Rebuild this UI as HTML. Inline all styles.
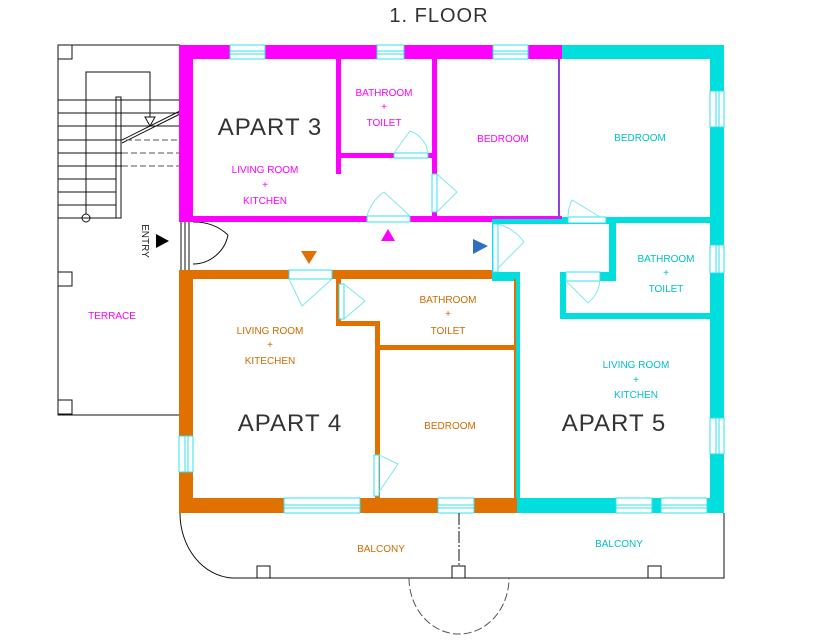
<!DOCTYPE html>
<html><head><meta charset="utf-8"><style>
body{margin:0;background:#fff}
svg{display:block}
text{font-family:"Liberation Sans",sans-serif}
</style></head><body>
<svg width="817" height="644" viewBox="0 0 817 644" xmlns="http://www.w3.org/2000/svg">
<rect width="817" height="644" fill="#fff"/>
<text x="439" y="22" font-size="20" text-anchor="middle" fill="#333" letter-spacing="1">1. FLOOR</text>

<g fill="none" stroke="#111" stroke-width="1">
<path d="M180 45 H58 V415 H180"/>
<rect x="58" y="45" width="14" height="14"/>
<rect x="58" y="272" width="14" height="14"/>
<rect x="58" y="400" width="14" height="14"/>
<path d="M86 218 V72 H150 V117"/>
<circle cx="86" cy="218" r="4" fill="#fff"/>
<rect x="116" y="97" width="5" height="121"/>
<path d="M58 100 H180 M58 113 H180 M58 126 H180 M58 140 H122 M58 153 H122 M58 166 H122 M58 179 H116 M58 192 H116 M58 205 H116 M58 218 H116"/>
<path d="M122 140 L180 111 M122 143 L180 114"/>
<path d="M145 117 H155 L150 126 Z"/>
<path d="M181 222 V270 M185 222 V270 M189 222 V270"/>
<path d="M193 222 A48 48 0 0 1 228 235"/>
<path d="M193 264 A36 36 0 0 0 228 235" />
</g>
<g stroke="#555" stroke-width="1" stroke-dasharray="6 3"><path d="M122 153 H180 M122 166 H180 M126 140 H180"/></g>

<g fill="#ff00ff">
<rect x="179" y="45" width="383" height="14"/>
<rect x="179" y="45" width="14" height="177"/>
<rect x="179" y="216" width="383" height="6"/>
<rect x="336" y="59" width="5" height="115"/>
<rect x="336" y="153" width="101" height="5"/>
<rect x="432" y="59" width="5" height="160"/>
</g>
<rect x="558" y="59" width="2" height="160" fill="#9040e0"/>
<g fill="#00dede">
<rect x="562" y="45" width="162" height="14"/>
<rect x="710" y="45" width="14" height="468"/>
<rect x="562" y="217" width="148" height="6"/>
<rect x="492" y="219" width="124" height="5"/>
<rect x="492" y="219" width="5" height="62"/>
<rect x="609" y="219" width="7" height="62"/>
<rect x="492" y="272" width="28" height="9"/>
<rect x="516" y="272" width="4" height="228"/>
<rect x="560" y="272" width="56" height="9"/>
<rect x="560" y="272" width="6" height="47"/>
<rect x="560" y="313" width="150" height="6"/>
<rect x="517" y="498" width="207" height="15"/>
</g>
<g fill="#e07000">
<rect x="179" y="270" width="313" height="9"/>
<rect x="179" y="270" width="14" height="243"/>
<rect x="179" y="498" width="338" height="15"/>
<rect x="336" y="279" width="5" height="47"/>
<rect x="336" y="321" width="43" height="5"/>
<rect x="375" y="321" width="5" height="177"/>
<rect x="379" y="345" width="137" height="5"/>
<rect x="514" y="279" width="2" height="220"/>
</g>

<g fill="#fff" stroke="#30e0f0" stroke-width="1">
<rect x="230" y="45" width="35" height="14"/><path d="M230 51 H265 M230 54 H265"/>
<rect x="377" y="45" width="27" height="14"/><path d="M377 51 H404 M377 54 H404"/>
<rect x="493" y="45" width="35" height="14"/><path d="M493 51 H528 M493 54 H528"/>
<rect x="710" y="91" width="14" height="36"/><path d="M716 91 V127 M719 91 V127"/>
<rect x="710" y="245" width="14" height="28"/><path d="M716 245 V273 M719 245 V273"/>
<rect x="710" y="418" width="14" height="36"/><path d="M716 418 V454 M719 418 V454"/>
<rect x="179" y="436" width="14" height="36"/><path d="M185 436 V472 M188 436 V472"/>
<rect x="284" y="498" width="76" height="15"/><path d="M284 505 H360 M284 508 H360"/>
<rect x="438" y="498" width="36" height="15"/><path d="M438 505 H474 M438 508 H474"/>
<rect x="616" y="498" width="36" height="15"/><path d="M616 505 H652 M616 508 H652"/>
<rect x="661" y="498" width="46" height="15"/><path d="M661 505 H707 M661 508 H707"/>
</g>
<g fill="none" stroke="#7ee8ee" stroke-width="1">
<rect x="394" y="153" width="34" height="5" fill="#fff" stroke="#30e0f0"/>
<path d="M394 153 L410 131 A27 27 0 0 1 428 153"/>
<rect x="432" y="174" width="5" height="38" fill="#fff" stroke="#30e0f0"/>
<path d="M437 174 L457 192 L437 212"/>
<rect x="367" y="216" width="43" height="6" fill="#fff" stroke="#30e0f0"/>
<path d="M367 216 A43 43 0 0 1 384 192 L410 216"/>
<rect x="289" y="270" width="43" height="9" fill="#fff" stroke="#30e0f0"/>
<path d="M289 279 L302 306 L332 279"/>
<rect x="339" y="284" width="5" height="35" fill="#fff" stroke="#30e0f0"/>
<path d="M344 284 L365 301 L344 319"/>
<rect x="374" y="455" width="5" height="41" fill="#fff" stroke="#30e0f0"/>
<path d="M379 455 L398 464 L379 492"/>
<rect x="568" y="217" width="38" height="6" fill="#fff" stroke="#30e0f0"/>
<path d="M568 217 A38 38 0 0 1 572 200 L600 217"/>
<rect x="493" y="224" width="5" height="48" fill="#fff" stroke="#30e0f0"/>
<path d="M498 224 A48 48 0 0 1 524 242 L498 268"/>
<rect x="566" y="272" width="34" height="9" fill="#fff" stroke="#30e0f0"/>
<path d="M566 281 L588 303 A34 34 0 0 0 600 281"/>
</g>

<g fill="none" stroke="#111" stroke-width="1">
<path d="M180 513 A55 65 0 0 0 232 578 H724 V513"/>
<rect x="257" y="566" width="13" height="12"/>
<rect x="452" y="566" width="13" height="12"/>
<rect x="648" y="566" width="13" height="12"/>
<path d="M459 513 V566" stroke-dasharray="12 2 2 2"/>
<path d="M409 578 A50 56 0 0 0 509 578" stroke="#555" stroke-dasharray="8 3"/>
</g>

<path d="M156 234 L169 241 L156 248 Z" fill="#000"/>
<text transform="translate(142,241) rotate(90)" font-size="10" text-anchor="middle" fill="#222">ENTRY</text>
<path d="M381 241 L395 241 L388 229 Z" fill="#ff00ff"/>
<path d="M301 251 L317 251 L309 264 Z" fill="#e07000"/>
<path d="M473 239 L488 246 L473 254 Z" fill="#2f6fc0"/>

<g font-size="10" text-anchor="middle">
<text x="270" y="135" font-size="24" fill="#333" letter-spacing="1">APART 3</text>
<text x="290" y="431" font-size="24" fill="#333" letter-spacing="1">APART 4</text>
<text x="614" y="431" font-size="24" fill="#333" letter-spacing="1">APART 5</text>
<g fill="#ff00ff"><text x="384" y="96">BATHROOM</text><text x="384" y="110">+</text><text x="384" y="126">TOILET</text>
<text x="265" y="173">LIVING ROOM</text><text x="265" y="188">+</text><text x="265" y="204">KITCHEN</text>
<text x="503" y="142">BEDROOM</text><text x="112" y="319">TERRACE</text></g>
<g fill="#00c0c8"><text x="640" y="141">BEDROOM</text>
<text x="666" y="262">BATHROOM</text><text x="666" y="276">+</text><text x="666" y="292">TOILET</text>
<text x="636" y="368">LIVING ROOM</text><text x="636" y="383">+</text><text x="636" y="398">KITCHEN</text>
<text x="619" y="547">BALCONY</text></g>
<g fill="#d06a00"><text x="448" y="303">BATHROOM</text><text x="448" y="317">+</text><text x="448" y="334">TOILET</text>
<text x="270" y="334">LIVING ROOM</text><text x="270" y="348">+</text><text x="270" y="364">KITECHEN</text>
<text x="450" y="429">BEDROOM</text><text x="381" y="552">BALCONY</text></g>
</g>
</svg>
</body></html>
